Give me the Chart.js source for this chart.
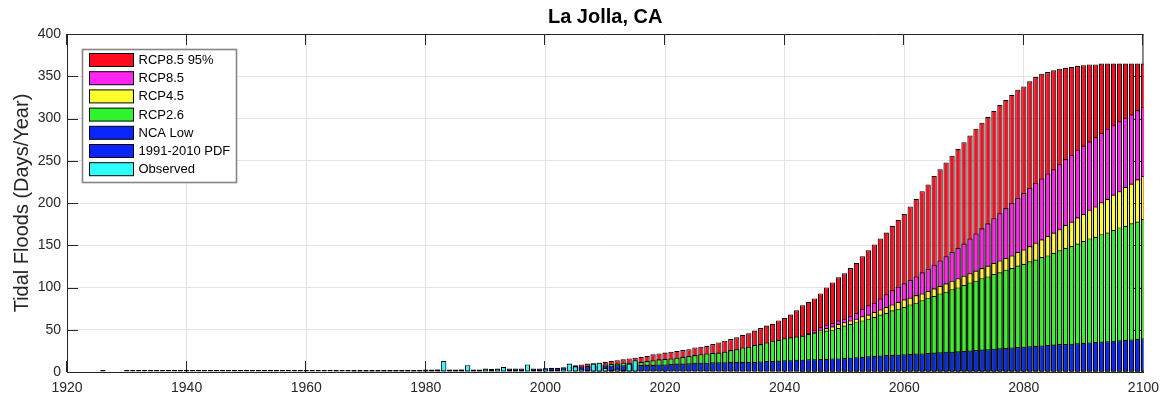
<!DOCTYPE html>
<html>
<head>
<meta charset="utf-8">
<title>La Jolla, CA</title>
<script src="https://cdn.jsdelivr.net/npm/chart.js@4.4.1/dist/chart.umd.min.js"></script>
<style>
  html, body { margin: 0; padding: 0; background: #ffffff; }
  canvas { display: block; }
</style>
</head>
<body>
<canvas id="chart" width="1167" height="397"></canvas>
<script>
// ---- Data: annual tidal-flood days, one value per year from the start year ----
const observedStart = 1926;
const observed = [
  0, null, null, null,
  0, 0, 0, 0, 0, 0, 0, 0, 0, 0,
  0, 0, 0, 0, 0, 0, 0, 0, 0, 0,
  0, 0, 0, 0, 0, 0, 0, 0, 0,
  1, 0, 0, 0, 0, 0,
  1, 0, 1, 1, 0, 1, 0, 1, 1, 0, 1, 1, 1, 0, 0,
  1, 2, 3, 13, 1, 1, 3, 8, 1, 2,
  4, 3, 4, 6, 2, 1, 2, 9, 3, 2,
  4, 2, 3, 4, 10, 7, 4, 2, 10, 11,
  5, 1, 4, 1, 10, 14
];

const pdfStart = 1965;
const pdf19912010 = [
  1, 1, 1, 1.5, 1.5, 1.5, 1.5, 1.5, 2, 2,
  2, 2, 2, 2, 2, 3, 3, 3, 3, 3,
  3, 3, 3, 3, 3, 3.5, 3.5, 3.5, 4, 4,
  4, 4, 4, 4, 4, 4.5, 5, 5, 5.5
];

const ncaLowStart = 2004;
const ncaLow = [
  6, 6, 6.5, 7, 7, 7, 7.5, 7.5, 8, 8,
  8, 8, 8.5, 8.5, 8.5, 9, 9, 9.5, 10, 10,
  10.5, 11, 11, 11, 11.5, 11.5, 11.5, 12, 12, 12,
  12, 12, 12.5, 13, 13, 13.5, 14, 14, 14.5, 14.5,
  15, 15, 15.5, 15.5, 16, 16, 16.5, 17, 17.5, 18,
  18.5, 19, 19.5, 20, 20, 20.5, 21, 21.5, 22, 22,
  22.5, 23, 23.5, 24, 24, 24.5, 25, 25.5, 26, 26.5,
  27, 27.5, 28, 28.5, 29, 29.5, 30, 30.5, 31, 31.5,
  32, 32.5, 33, 33, 33.5, 34, 34.5, 35, 35.5, 36,
  36.5, 37, 37.5, 38, 38.5, 39, 40
];

const rcp26Start = 2008;
const rcp26 = [
  7, 8, 9, 9.5, 10, 11, 11, 11.5, 12, 13,
  14, 15, 15.5, 16, 17, 18, 19, 20, 21, 22,
  22.5, 23, 24, 26, 27, 29, 30, 32, 33, 35,
  37, 38, 40, 41, 42, 43, 45, 46, 48, 49,
  50, 52, 55, 57, 59, 61, 63, 65, 68, 70,
  73, 75, 77, 80, 82, 85, 88, 90, 93, 95,
  98, 100, 103, 106, 108, 111, 113, 116, 118, 121,
  123, 126, 128, 131, 133, 136, 138, 141, 144, 147,
  149, 152, 155, 158, 160, 163, 165, 168, 171, 173,
  176, 178, 181
];

const rcp45Start = 2043;
const rcp45 = [
  43, 45, 47, 50, 52, 54, 57, 59, 61, 63,
  66, 68, 71, 74, 77, 80, 83, 86, 88, 91,
  93, 96, 99, 102, 105, 108, 111, 114, 117, 120,
  123, 126, 129, 132, 135, 138, 142, 145, 149, 153,
  157, 161, 165, 169, 174, 178, 183, 187, 192, 196,
  201, 205, 210, 214, 219, 223, 228, 232
];

const rcp85Start = 2043;
const rcp85 = [
  43, 46, 50, 53, 56, 58, 61, 63, 66, 70,
  75, 79, 82, 87, 92, 97, 101, 105, 109, 113,
  118, 122, 127, 132, 137, 142, 147, 152, 158, 164,
  170, 176, 182, 188, 194, 200, 206, 212, 218, 224,
  229, 235, 240, 246, 252, 257, 263, 268, 273, 278,
  283, 288, 292, 297, 301, 305, 310, 314
];

const rcp85p95Start = 2005;
const rcp85p95 = [
  8, 9, 10, 10.5, 11, 12, 13, 14, 15, 16,
  17, 18, 19, 21, 22, 23, 24, 25, 26, 27,
  29, 30, 31, 33, 35, 37, 39, 41, 44, 46,
  49, 52, 55, 57, 61, 64, 68, 73, 79, 83,
  87, 93, 100, 106, 112, 117, 123, 129, 137, 144,
  151, 158, 165, 173, 180, 187, 196, 205, 214, 222,
  232, 240, 248, 256, 264, 272, 280, 288, 295, 302,
  309, 316, 322, 328, 334, 338, 344, 349, 353, 355,
  357, 359, 360, 361, 362, 363, 364, 364, 365, 365,
  365, 365, 365, 365, 365, 365
];

// ---- Axis settings ----
const xMin = 1920, xMax = 2100, xStep = 20;
const yMin = 0, yMax = 400, yStep = 50;

const FONT = '"Liberation Sans", Arial, Helvetica, sans-serif';
const AXIS_COLOR = '#262626';

function toPoints(start, values) {
  return values.map((v, i) => ({ x: start + i, y: v }));
}

// Series drawn so that the first dataset sits on top of the others.
const series = [
  { label: 'Observed',       start: observedStart, values: observed,     color: '#2dffff' },
  { label: '1991-2010 PDF',  start: pdfStart,      values: pdf19912010,  color: '#0b26fb' },
  { label: 'NCA Low',        start: ncaLowStart,   values: ncaLow,       color: '#0b26fb' },
  { label: 'RCP2.6',         start: rcp26Start,    values: rcp26,        color: '#2ef52e' },
  { label: 'RCP4.5',         start: rcp45Start,    values: rcp45,        color: '#ffff30' },
  { label: 'RCP8.5',         start: rcp85Start,    values: rcp85,        color: '#ff26f4' },
  { label: 'RCP8.5 95%',     start: rcp85p95Start, values: rcp85p95,     color: '#ff0d1f' }
];

const datasets = series.map((s, i) => ({
  label: s.label,
  data: toPoints(s.start, s.values),
  backgroundColor: s.color,
  borderColor: '#000000',
  borderWidth: 1.1,
  borderSkipped: false,
  grouped: false,
  minBarLength: i === 0 ? 2 : 0,
  barPercentage: 0.88,
  categoryPercentage: 1.0
}));

// Box around the axes and inward tick marks, drawn beneath the bars.
const axesFrame = {
  id: 'axesFrame',
  beforeDatasetsDraw(chart) {
    const { ctx, chartArea: a, scales: { x, y } } = chart;
    const tl = 11;
    ctx.save();
    ctx.strokeStyle = AXIS_COLOR;
    ctx.lineWidth = 1;
    ctx.beginPath();
    ctx.moveTo(a.left, a.top + 0.5); ctx.lineTo(a.right, a.top + 0.5);
    ctx.moveTo(a.right - 0.5, a.top); ctx.lineTo(a.right - 0.5, a.bottom);
    x.ticks.forEach(t => {
      const px = Math.round(x.getPixelForValue(t.value)) - 0.5;
      ctx.moveTo(px, a.bottom); ctx.lineTo(px, a.bottom - tl);
      ctx.moveTo(px, a.top); ctx.lineTo(px, a.top + tl);
    });
    y.ticks.forEach(t => {
      const py = Math.round(y.getPixelForValue(t.value)) + 0.5;
      ctx.moveTo(a.left, py); ctx.lineTo(a.left + tl, py);
      ctx.moveTo(a.right, py); ctx.lineTo(a.right - tl, py);
    });
    ctx.stroke();
    ctx.restore();
  }
};

// Title centred over the plot area.
const plotTitle = {
  id: 'plotTitle',
  afterDraw(chart) {
    const { ctx, chartArea: a } = chart;
    ctx.save();
    ctx.font = 'bold 20px ' + FONT;
    ctx.fillStyle = '#000000';
    ctx.textAlign = 'center';
    ctx.textBaseline = 'middle';
    ctx.fillText('La Jolla, CA', (a.left + a.right) / 2, 17);
    ctx.restore();
  }
};

// Legend box in the upper-left corner of the plot.
const insetLegend = {
  id: 'insetLegend',
  afterDatasetsDraw(chart) {
    const { ctx, chartArea: a } = chart;
    const items = chart.data.datasets.slice().reverse();
    const bx = a.left + 15.5, by = a.top + 15.5, bw = 154, bh = 133;
    ctx.save();
    ctx.fillStyle = '#ffffff';
    ctx.fillRect(bx, by, bw, bh);
    ctx.strokeStyle = '#858585';
    ctx.lineWidth = 1.6;
    ctx.strokeRect(bx, by, bw, bh);
    ctx.font = '13px ' + FONT;
    ctx.textAlign = 'left';
    ctx.textBaseline = 'middle';
    items.forEach((d, i) => {
      const cy = by + 10.5 + i * 18.2;
      ctx.fillStyle = d.backgroundColor;
      ctx.fillRect(bx + 7, cy - 6.5, 44, 13);
      ctx.strokeStyle = '#000000';
      ctx.lineWidth = 1;
      ctx.strokeRect(bx + 7, cy - 6.5, 44, 13);
      ctx.fillStyle = '#000000';
      ctx.fillText(d.label, bx + 56, cy + 0.5);
    });
    ctx.restore();
  }
};

new Chart(document.getElementById('chart'), {
  type: 'bar',
  data: { datasets },
  plugins: [axesFrame, insetLegend, plotTitle],
  options: {
    responsive: false,
    devicePixelRatio: 1,
    animation: false,
    layout: { padding: { top: 34, right: 21, left: 0, bottom: 0 } },
    plugins: {
      legend: { display: false },
      tooltip: { enabled: false },
      title: { display: false }
    },
    scales: {
      x: {
        type: 'linear',
        min: xMin,
        max: xMax,
        offset: false,
        ticks: {
          stepSize: xStep,
          color: AXIS_COLOR,
          font: { family: FONT, size: 14 },
          padding: 8,
          maxRotation: 0,
          autoSkip: false,
          callback: v => String(v)
        },
        grid: { color: '#e3e3e3', lineWidth: 1, drawTicks: false, offset: false },
        border: { display: true, color: AXIS_COLOR, width: 1 },
        afterFit: s => { s.height = 25; }
      },
      y: {
        type: 'linear',
        min: yMin,
        max: yMax,
        ticks: {
          stepSize: yStep,
          color: AXIS_COLOR,
          font: { family: FONT, size: 14 },
          padding: 6
        },
        grid: { color: '#e3e3e3', lineWidth: 1, drawTicks: false },
        border: { display: true, color: AXIS_COLOR, width: 1 },
        title: {
          display: true,
          text: 'Tidal Floods (Days/Year)',
          color: AXIS_COLOR,
          font: { family: FONT, size: 20 },
          padding: { top: 10, bottom: 0 }
        },
        afterFit: s => { s.width = 67; }
      }
    }
  }
});
</script>
</body>
</html>
